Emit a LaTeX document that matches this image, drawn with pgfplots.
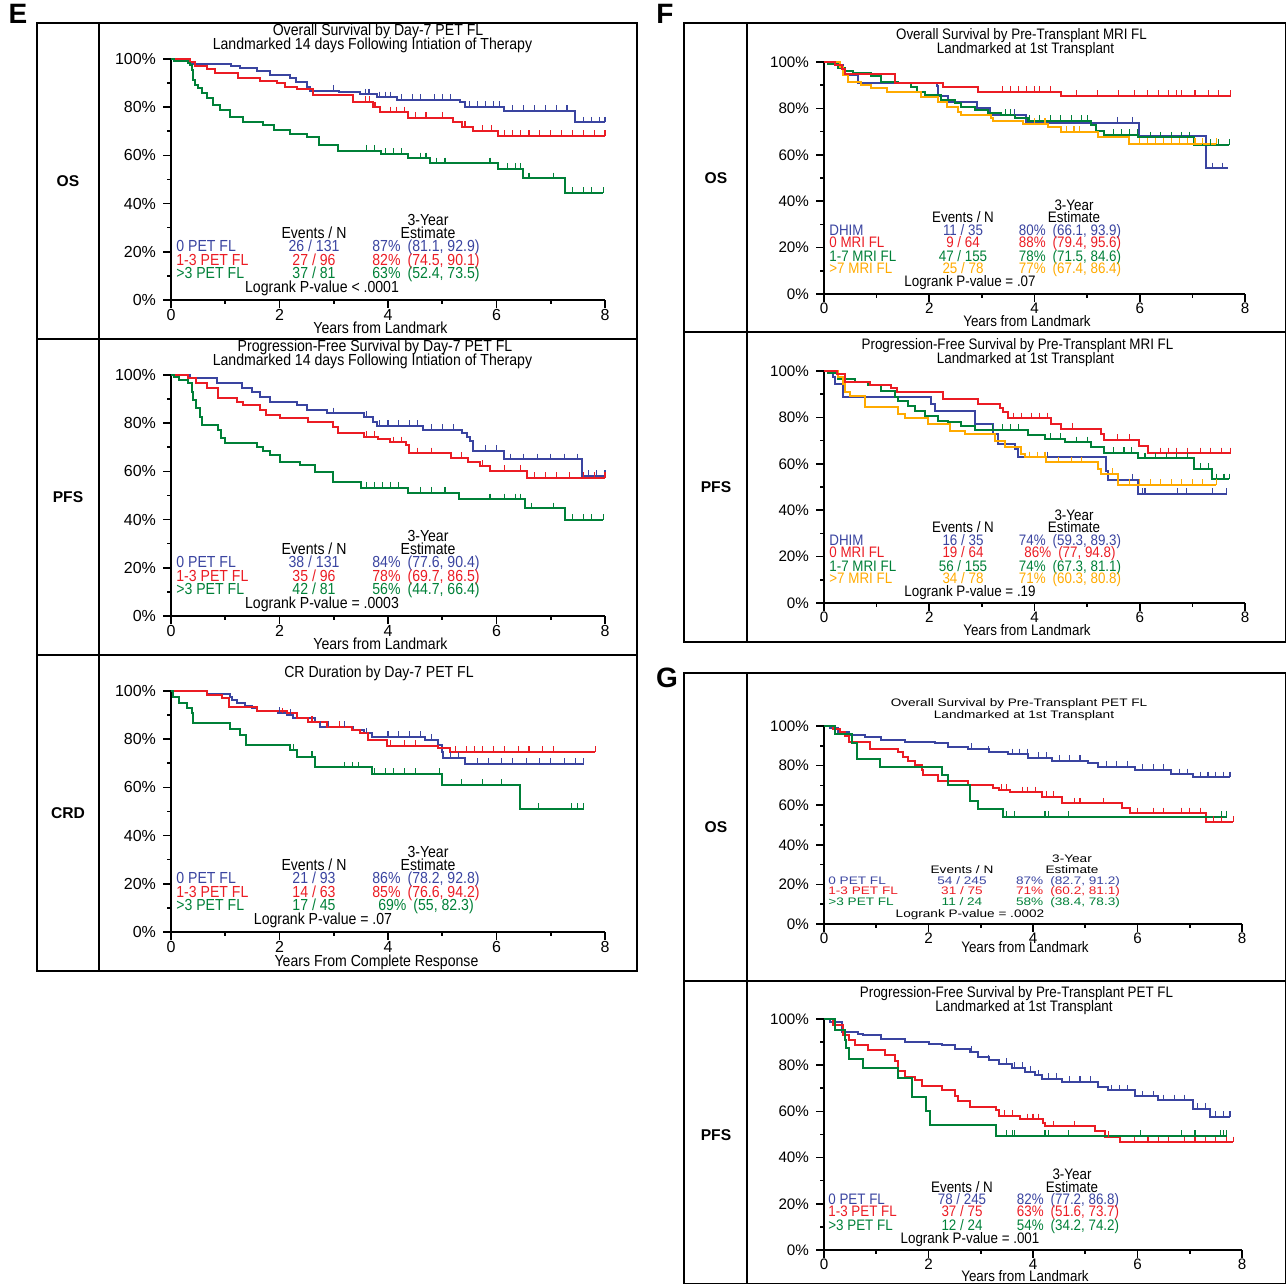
\documentclass[border=0pt]{standalone}
\usepackage{fontspec}
\setmainfont{Liberation Sans}
\newfontfamily\cond[FakeStretch=0.88]{Liberation Sans}
\usepackage{pgfplots}
\pgfplotsset{compat=1.18}
\definecolor{cb}{RGB}{58,68,160}
\definecolor{cr}{RGB}{235,28,36}
\definecolor{cg}{RGB}{0,128,56}
\definecolor{co}{RGB}{255,170,0}
\newcommand{\fE}{\cond\fontsize{8}{9}\selectfont}
\newcommand{\fF}{\cond\fontsize{7.6}{8.6}\selectfont}
\newcommand{\fG}{\normalfont\fontsize{6.8}{8}\selectfont}

\pgfplotsset{
  kmaxis/.style={
    scale only axis, anchor=south west,
    xmin=0, xmax=8, ymin=0, ymax=100,
    axis lines=left, axis line style={-, line width=1pt},
    xtick={0,2,4,6,8}, minor xtick={1,3,5,7},
    ytick={0,20,...,100}, minor ytick={10,30,...,90},
    tick align=outside, major tick length=4pt, minor tick length=2pt,
    tick style={black, line width=0.8pt},
    /pgf/number format/assume math mode=true,
    xticklabel={\pgfmathprintnumber{\tick}},
    yticklabel={\pgfmathprintnumber{\tick}\%},
    xticklabel style={yshift=3pt},
    clip=false,
  },
  km/.style={const plot, line width=1pt, mark=none, #1},
  cens/.style={only marks, mark=|, mark size=1.4pt, mark options={line width=0.55pt, yshift=1.4pt}, #1},
}
\tikzset{t/.style={inner sep=0pt, anchor=mid}, tl/.style={inner sep=0pt, anchor=mid west},
  sq/.style={yscale=0.8, transform shape}}

\begin{document}
\begin{tikzpicture}
\begin{scope}[x=0.5pt,y=0.5pt]
\useasboundingbox (0,0) rectangle (1286,1284);
\end{scope}

% ---------------- E: OS
\begin{axis}[kmaxis, at={(85.5pt,492pt)}, width=217pt, height=120.5pt,
  ticklabel style={font=\fontsize{8}{9}\selectfont}]
\addplot[km=cb] coordinates {(0,100)(0.1,99)(0.35,98)(1.1,97.2)(1.27,96.4)(1.58,95.2)(1.83,93.4)(2.2,92)(2.3,90.6)(2.5,88.5)(2.56,86.9)(3.1,86.2)(3.48,85.3)(3.8,84.1)(4.16,83)(5.33,82.3)(5.42,80.2)(6.13,78.4)(7.45,73.7)(8.0,73.7)};
\addplot[km=cr] coordinates {(0,100)(0.35,98.6)(0.44,97.2)(0.66,95.8)(0.81,94)(1.24,92)(1.64,91)(1.95,89.9)(2.1,88.2)(2.32,87.4)(2.62,85)(3.36,82.3)(3.73,79.9)(3.85,77.9)(4.37,75.7)(5.2,74)(5.36,71.9)(5.57,70.1)(6.03,68.2)(8.0,68.2)};
\addplot[km=cg] coordinates {(0,100)(0.05,99.2)(0.32,98.5)(0.35,97.5)(0.38,95.4)(0.40,93.4)(0.41,91.3)(0.44,89.2)(0.50,87.8)(0.57,85.8)(0.66,83.7)(0.78,80.9)(0.90,78.8)(1.09,76.1)(1.33,74)(1.70,72.6)(1.89,70.5)(2.19,68.9)(2.50,67.5)(2.72,64.3)(3.08,62)(3.88,60.6)(4.37,58.8)(4.77,56.7)(6.03,54.4)(6.49,50.5)(7.26,44.5)(7.97,44.5)};
\addplot[cens=cb] coordinates {(2.99,86.9)(3.58,85.3)(3.65,85.3)(3.85,84.1)(3.95,84.1)(4.05,84.1)(4.25,83)(4.45,83)(4.6,83)(4.85,83)(5.0,83)(5.15,83)(5.5,80.2)(5.65,80.2)(5.8,80.2)(5.95,80.2)(6.05,80.2)(6.3,78.4)(6.5,78.4)(6.7,78.4)(6.9,78.4)(7.1,78.4)(7.3,78.4)(7.6,73.7)(7.75,73.7)(7.9,73.7)(8,73.7)};
\addplot[cens=cr] coordinates {(3.58,82.3)(3.66,82.3)(3.76,79.9)(4.05,77.9)(4.15,77.9)(4.3,77.9)(4.5,75.7)(4.7,75.7)(5.0,75.7)(5.42,71.9)(5.75,70.1)(5.9,70.1)(6.15,68.2)(6.3,68.2)(6.45,68.2)(6.6,68.2)(6.8,68.2)(7.0,68.2)(7.2,68.2)(7.4,68.2)(7.6,68.2)(7.8,68.2)(8,68.2)};
\addplot[cens=cg] coordinates {(3.6,62)(3.75,62)(3.95,60.6)(4.1,60.6)(4.25,60.6)(4.6,58.8)(4.7,58.8)(4.9,56.7)(5.05,56.7)(5.88,56.7)(6.2,54.4)(6.35,54.4)(6.45,54.4)(6.6,50.5)(7.05,50.5)(7.4,44.5)(7.6,44.5)(7.75,44.5)(7.97,44.5)};
\end{axis}

% ---------------- E: PFS
\begin{axis}[kmaxis, at={(85.5pt,334pt)}, width=217pt, height=120.5pt,
  ticklabel style={font=\fontsize{8}{9}\selectfont}]
\addplot[km=cb] coordinates {(0,100)(0.35,98.6)(0.84,96.5)(1.30,94.5)(1.49,93.1)(1.64,91)(1.82,88.9)(2.32,87.6)(2.50,85.5)(2.87,84.1)(3.55,82.7)(3.73,80.6)(3.79,78.8)(4.65,77.2)(5.36,75.8)(5.45,74.4)(5.51,72.5)(5.57,68.5)(6.13,65)(7.57,58.1)(8.0,58.1)};
\addplot[km=cr] coordinates {(0,100)(0.32,98.6)(0.47,96.5)(0.66,94.5)(0.87,90.3)(1.21,88.9)(1.33,87.6)(1.64,85.5)(1.76,83.4)(2.01,82)(2.53,80.6)(2.99,78.6)(3.08,75.8)(3.55,74.4)(3.82,73.4)(4.04,72.1)(4.34,71)(4.39,67.5)(5.17,65.7)(5.48,63.8)(5.70,62.4)(5.88,60.2)(6.56,57.4)(8.0,57.4)};
\addplot[km=cg] coordinates {(0,100)(0.05,99.3)(0.14,97.9)(0.32,96.5)(0.38,93.1)(0.41,89.6)(0.47,86.2)(0.53,82.7)(0.58,79.3)(0.87,77.2)(0.93,73.7)(1.0,71.6)(1.58,70.3)(1.70,68.5)(1.82,66.8)(2.01,64)(2.38,62.7)(2.65,59.9)(2.99,55.7)(3.51,53.3)(4.37,51.2)(5.30,48.4)(6.53,44.7)(7.26,39.8)(7.97,39.8)};
\addplot[cens=cb] coordinates {(2.99,84.1)(3.6,82.7)(3.85,78.8)(4.0,78.8)(4.2,78.8)(4.4,78.8)(4.55,78.8)(4.8,77.2)(5.0,77.2)(5.2,77.2)(5.8,68.5)(6.0,68.5)(6.25,65)(6.5,65)(6.75,65)(7.0,65)(7.25,65)(7.5,65)(7.7,58.1)(7.85,58.1)(8,58.1)};
\addplot[cens=cr] coordinates {(3.6,74.4)(3.75,74.4)(4.1,72.1)(4.25,72.1)(4.55,67.5)(4.8,67.5)(5.35,65.7)(5.75,62.4)(6.15,60.2)(6.45,60.2)(6.7,57.4)(6.9,57.4)(7.1,57.4)(7.35,57.4)(7.6,57.4)(7.8,57.4)(8,57.4)};
\addplot[cens=cg] coordinates {(3.6,53.3)(3.75,53.3)(3.9,53.3)(4.05,53.3)(4.2,53.3)(4.6,51.2)(4.8,51.2)(5.05,51.2)(5.88,48.4)(6.15,48.4)(6.35,48.4)(6.45,48.4)(6.65,44.7)(7.05,44.7)(7.4,39.8)(7.6,39.8)(7.75,39.8)(7.97,39.8)};
\end{axis}

% ---------------- E: CRD
\begin{axis}[kmaxis, at={(85.5pt,176pt)}, width=217pt, height=120.5pt,
  ticklabel style={font=\fontsize{8}{9}\selectfont}]
\addplot[km=cb] coordinates {(0,100)(0.66,98.6)(1.09,97.6)(1.12,96.3)(1.21,94.9)(1.36,93.8)(1.49,92.8)(1.58,91.8)(1.98,91)(2.13,90)(2.25,88.7)(2.65,87.3)(2.75,85.2)(3.36,83.8)(3.55,82.4)(3.70,81)(4.68,79.7)(4.93,77.6)(4.99,74.8)(5.02,72.3)(5.42,69.7)(7.61,69.7)};
\addplot[km=cr] coordinates {(0,100)(0.66,98.3)(0.94,97)(1.06,93.5)(1.58,91.8)(2.13,90.7)(2.32,88.7)(2.53,87.3)(2.87,85.2)(3.33,83.8)(3.48,82.4)(3.64,79.7)(3.98,77.3)(4.93,76.5)(5.14,74.8)(7.82,74.8)};
\addplot[km=cg] coordinates {(0,100)(0.04,97.5)(0.14,95.2)(0.29,93)(0.38,90.7)(0.41,86.6)(1.09,84.1)(1.27,81.7)(1.39,77.6)(2.19,75.5)(2.32,72.8)(2.65,68.3)(3.70,65.6)(4.99,61)(6.43,51)(7.61,51)};
\addplot[cens=cb] coordinates {(2.0,91)(2.2,90)(2.75,85.2)(2.9,85.2)(3.2,85.2)(3.6,82.4)(4.0,81)(4.2,81)(4.4,81)(4.6,81)(4.8,79.7)(5.15,72.3)(5.3,72.3)(5.65,69.7)(5.85,69.7)(6.1,69.7)(6.3,69.7)(6.55,69.7)(6.8,69.7)(7.0,69.7)(7.25,69.7)(7.45,69.7)(7.61,69.7)};
\addplot[cens=cr] coordinates {(2.05,90.7)(2.6,87.3)(3.1,85.2)(4.05,77.3)(4.3,77.3)(4.5,77.3)(5.25,74.8)(5.45,74.8)(5.6,74.8)(5.75,74.8)(5.95,74.8)(6.15,74.8)(6.4,74.8)(6.6,74.8)(6.85,74.8)(7.05,74.8)(7.82,74.8)};
\addplot[cens=cg] coordinates {(2.25,75.5)(2.6,72.8)(3.2,68.3)(3.35,68.3)(3.45,68.3)(3.75,65.6)(3.95,65.6)(4.1,65.6)(4.3,65.6)(4.5,65.6)(4.95,65.6)(5.35,61)(5.75,61)(6.1,61)(6.77,51)(7.38,51)(7.5,51)(7.61,51)};
\end{axis}

% ---------------- F: OS
\begin{axis}[kmaxis, at={(412pt,495pt)}, width=210.5pt, height=116pt,
  ticklabel style={font=\fontsize{7.6}{8.6}\selectfont}]
\addplot[km=cb] coordinates {(0,100)(0.24,98.5)(0.37,94.4)(0.65,91.1)(2.14,89.7)(2.17,85.5)(2.36,82.9)(2.90,80)(3.15,77.2)(3.84,73.9)(5.99,68.2)(7.26,54.2)(7.67,54.2)};
\addplot[km=cg] coordinates {(0,100)(0.08,99.1)(0.27,97.3)(0.40,96.3)(0.56,95.1)(0.90,94)(1.09,91.5)(1.41,90.8)(1.66,89.4)(1.76,87.2)(1.92,85.8)(2.23,83.6)(2.48,82.2)(2.61,80.5)(2.86,79.3)(3.12,78.2)(3.37,77.2)(3.62,75.7)(3.87,74.7)(5.08,72.8)(5.17,70.4)(5.33,68.5)(5.96,67.5)(7.04,64.2)(7.70,64.2)};
\addplot[km=co] coordinates {(0,100)(0.30,98)(0.37,94.4)(0.46,91.5)(0.71,90.1)(0.90,88.6)(1.19,87.2)(1.85,85)(2.17,82.9)(2.33,80.7)(2.55,78.6)(2.61,77.2)(3.18,75.7)(3.21,74.7)(3.78,73.3)(4.25,72.1)(4.51,70)(5.20,67.5)(5.80,64.7)(7.45,64.7)};
\addplot[km=cr] coordinates {(0,100)(0.21,98.5)(0.34,97)(0.40,94.8)(1.35,91.1)(2.26,89.1)(2.93,87.2)(4.51,85.3)(7.73,85.3)};
\addplot[cens=cb] coordinates {(3.62,77.2)(5.58,73.9)(5.87,73.9)(7.38,54.2)(7.57,54.2)};
\addplot[cens=cg] coordinates {(3.45,77.2)(3.55,77.2)(3.9,74.7)(4.1,74.7)(4.3,74.7)(4.5,74.7)(4.7,74.7)(4.9,74.7)(5.0,74.7)(5.5,68.5)(5.65,68.5)(5.8,68.5)(5.95,68.5)(6.2,67.5)(6.4,67.5)(6.6,67.5)(6.8,67.5)(6.95,67.5)(7.2,64.2)(7.35,64.2)(7.5,64.2)(7.7,64.2)};
\addplot[cens=co] coordinates {(4.0,73.3)(4.2,73.3)(4.6,70)(4.75,70)(4.85,70)(6.0,64.7)(6.15,64.7)(6.3,64.7)(6.45,64.7)(6.6,64.7)(6.75,64.7)(6.9,64.7)(7.05,64.7)(7.2,64.7)(7.45,64.7)};
\addplot[cens=cr] coordinates {(3.4,87.2)(3.55,87.2)(3.7,87.2)(3.85,87.2)(4.0,87.2)(4.1,87.2)(4.3,87.2)(4.8,85.3)(5.2,85.3)(5.6,85.3)(5.9,85.3)(6.15,85.3)(6.35,85.3)(6.55,85.3)(6.7,85.3)(6.8,85.3)(7.05,85.3)(7.3,85.3)(7.5,85.3)(7.73,85.3)};
\end{axis}

% ---------------- F: PFS
\begin{axis}[kmaxis, at={(412pt,340.5pt)}, width=210.5pt, height=116pt,
  ticklabel style={font=\fontsize{7.6}{8.6}\selectfont}]
\addplot[km=cb] coordinates {(0,100)(0.18,97.3)(0.21,94.4)(0.37,88.6)(2.04,85.8)(2.10,82.9)(2.86,77.2)(3.21,72.8)(3.31,68.5)(3.62,66.4)(3.69,62.8)(5.36,57)(5.39,53.2)(5.96,47)(7.65,47)};
\addplot[km=cg] coordinates {(0,100)(0.08,99)(0.27,96.6)(0.59,95.1)(0.84,94)(1.09,91.5)(1.35,88.6)(1.41,87.2)(1.60,85)(1.73,82.9)(1.92,80.5)(2.17,78.6)(2.36,77.9)(2.61,76.4)(2.86,74.7)(3.87,72.4)(4.19,70.7)(4.57,69.3)(5.08,67.1)(5.33,64.7)(5.96,62.4)(7.04,57.8)(7.38,53.4)(7.70,53.4)};
\addplot[km=co] coordinates {(0,100)(0.27,97.3)(0.37,94.4)(0.40,91)(0.5,89.4)(0.78,84.3)(1.41,81.5)(1.54,79.6)(1.98,77.2)(2.39,74.3)(2.67,72.8)(3.24,70)(3.43,67.1)(3.75,64.2)(3.81,62.8)(4.22,60.6)(5.20,57.8)(5.27,55.6)(5.58,50.9)(7.45,50.9)};
\addplot[km=cr] coordinates {(0,100)(0.24,98.7)(0.40,95.1)(0.87,94)(1.28,92.5)(1.38,90.8)(2.26,87.9)(2.93,85.8)(3.34,83.9)(3.40,82.2)(3.50,79.6)(4.32,77.2)(4.51,75)(5.27,72.8)(5.33,70.4)(5.99,67.5)(6.15,64.5)(7.73,64.5)};
\addplot[cens=cb] coordinates {(3.9,62.8)(4.25,62.8)(5.87,53.2)(6.05,47)(6.1,47)(6.72,47)(6.88,47)(7.38,47)(7.65,47)};
\addplot[cens=cg] coordinates {(3.2,74.7)(3.4,74.7)(3.55,74.7)(3.7,74.7)(4.3,70.7)(4.5,70.7)(4.8,69.3)(5.0,69.3)(5.5,64.7)(5.7,64.7)(5.85,64.7)(6.1,62.4)(6.3,62.4)(6.5,62.4)(6.7,62.4)(6.9,62.4)(7.15,57.8)(7.3,57.8)(7.45,53.4)(7.6,53.4)(7.7,53.4)};
\addplot[cens=co] coordinates {(3.9,62.8)(4.05,62.8)(4.2,62.8)(4.45,60.6)(4.7,60.6)(4.9,60.6)(5.49,55.6)(5.8,50.9)(6.0,50.9)(6.2,50.9)(6.4,50.9)(6.6,50.9)(6.8,50.9)(7.0,50.9)(7.2,50.9)(7.45,50.9)};
\addplot[cens=cr] coordinates {(3.6,79.6)(3.75,79.6)(3.95,79.6)(4.1,79.6)(4.25,79.6)(4.73,75)(5.58,70.4)(5.8,70.4)(6.4,64.5)(6.55,64.5)(6.7,64.5)(6.9,64.5)(7.15,64.5)(7.35,64.5)(7.55,64.5)(7.73,64.5)};
\end{axis}

% ---------------- G: OS
\begin{axis}[kmaxis, at={(412pt,180pt)}, width=209pt, height=99pt,
  ticklabel style={font=\fontsize{7.6}{8.6}\selectfont}]
\addplot[km=cb] coordinates {(0,100)(0.11,99.2)(0.27,97.1)(0.47,95.5)(0.78,94.6)(1.10,92.9)(1.55,92.1)(2.12,91.2)(2.38,89.6)(2.76,88.4)(3.15,87)(3.53,85.7)(3.91,84)(4.36,82.5)(5.06,81.1)(5.25,79.5)(5.95,77.8)(6.65,75.6)(7.07,74.1)(7.77,74.1)};
\addplot[km=cr] coordinates {(0,100)(0.18,98.5)(0.31,97.1)(0.40,94.9)(0.47,92.1)(0.88,88.2)(1.42,86.7)(1.52,84.5)(1.61,82.3)(1.74,80.3)(1.87,77.8)(1.90,75.3)(2.19,72.3)(2.76,70.2)(3.24,68.5)(3.34,67.7)(3.56,66.5)(4.17,64.3)(4.55,60.9)(5.70,58.4)(5.86,55.9)(7.32,51.7)(7.83,51.7)};
\addplot[km=cg] coordinates {(0,100)(0.21,95.8)(0.53,91.2)(0.63,83.3)(1.07,79.1)(2.25,75.3)(2.38,70.2)(2.79,62.1)(2.95,58.1)(3.43,54.2)(7.71,54.2)};
\addplot[cens=cb] coordinates {(2.83,88.4)(3.15,87)(3.6,85.7)(3.75,85.7)(3.9,85.7)(4.1,84)(4.25,84)(4.5,82.5)(4.7,82.5)(4.9,82.5)(5.4,79.5)(5.6,79.5)(5.8,79.5)(6.1,77.8)(6.3,77.8)(6.5,77.8)(6.8,75.6)(6.95,75.6)(7.2,74.1)(7.35,74.1)(7.5,74.1)(7.65,74.1)(7.77,74.1)};
\addplot[cens=cr] coordinates {(3.4,67.7)(3.5,67.7)(3.8,66.5)(3.9,66.5)(4.05,66.5)(4.25,64.3)(4.4,64.3)(4.8,60.9)(4.9,60.9)(5.35,60.9)(6.0,55.9)(6.3,55.9)(6.5,55.9)(6.85,55.9)(7.0,55.9)(7.2,55.9)(7.45,51.7)(7.6,51.7)(7.83,51.7)};
\addplot[cens=cg] coordinates {(3.5,54.2)(3.65,54.2)(4.23,54.2)(4.3,54.2)(4.68,54.2)(7.6,54.2)(7.71,54.2)};
\end{axis}

% ---------------- G: PFS
\begin{axis}[kmaxis, at={(412pt,17pt)}, width=209pt, height=115.5pt,
  ticklabel style={font=\fontsize{7.6}{8.6}\selectfont}]
\addplot[km=cb] coordinates {(0,100)(0.11,98.6)(0.34,94.4)(0.66,93.6)(0.75,92.9)(1.10,91.5)(1.55,90)(2.0,89.3)(2.25,88.6)(2.51,87.1)(2.79,85.7)(2.95,83.5)(3.15,82.1)(3.34,80.6)(3.59,78.9)(3.85,77.1)(4.04,75.6)(4.17,74.1)(4.55,72.7)(5.25,70.5)(5.44,69.1)(5.95,66.5)(6.40,64.8)(7.07,61.2)(7.39,57.6)(7.77,57.6)};
\addplot[km=cr] coordinates {(0,100)(0.18,97.5)(0.37,93.2)(0.47,91)(0.59,88.9)(0.85,86.4)(1.17,84.5)(1.36,81.6)(1.42,77.3)(1.55,75.1)(1.74,73.7)(1.87,70.8)(2.25,69.4)(2.51,66.5)(2.57,64.7)(2.79,62.1)(3.30,60.7)(3.34,58.1)(3.75,56.6)(4.20,54.9)(4.23,53.5)(5.19,51.3)(5.38,49.1)(5.66,46.7)(7.83,46.7)};
\addplot[km=cg] coordinates {(0,100)(0.21,95.4)(0.40,91)(0.43,87.4)(0.47,82.7)(0.75,78.8)(1.42,74.4)(1.68,66.2)(1.96,60)(2.03,54.2)(3.30,49.4)(7.71,49.4)};
\addplot[cens=cb] coordinates {(2.83,85.7)(3.15,82.1)(3.5,80.6)(3.65,78.9)(3.8,78.9)(3.95,77.1)(4.1,75.6)(4.3,74.1)(4.45,74.1)(4.7,72.7)(4.9,72.7)(5.1,72.7)(5.5,69.1)(5.65,69.1)(5.8,69.1)(6.1,66.5)(6.3,66.5)(6.5,64.8)(6.7,64.8)(6.9,64.8)(7.15,61.2)(7.3,61.2)(7.5,57.6)(7.65,57.6)(7.77,57.6)};
\addplot[cens=cr] coordinates {(3.45,58.1)(3.6,58.1)(3.9,56.6)(4.0,56.6)(4.1,56.6)(4.4,53.5)(4.8,53.5)(5.44,49.1)(5.95,46.7)(6.2,46.7)(6.4,46.7)(6.6,46.7)(6.9,46.7)(7.1,46.7)(7.3,46.7)(7.5,46.7)(7.7,46.7)(7.83,46.7)};
\addplot[cens=cg] coordinates {(3.5,49.4)(3.6,49.4)(3.65,49.4)(4.23,49.4)(4.3,49.4)(4.68,49.4)(6.05,49.4)(6.85,49.4)(7.1,49.4)(7.58,49.4)(7.65,49.4)(7.71,49.4)};
\end{axis}

% ---------------- frames, titles, annotations (pixel grid, y measured from top)
\begin{scope}[x=0.5pt,y=0.5pt]
\draw[line width=0.7pt] (37,{1284-23}) rectangle (637,{1284-971});
\draw[line width=0.7pt] (99,{1284-23}) -- (99,{1284-971});
\draw[line width=0.7pt] (37,{1284-339}) -- (637,{1284-339});
\draw[line width=0.7pt] (37,{1284-655}) -- (637,{1284-655});
\draw[line width=0.7pt] (684,{1284-23}) rectangle (1285.3,{1284-642});
\draw[line width=0.7pt] (747,{1284-23}) -- (747,{1284-642});
\draw[line width=0.7pt] (684,{1284-332}) -- (1285.3,{1284-332});
\draw[line width=0.7pt] (684,{1284-673}) rectangle (1285.3,0.7);
\draw[line width=0.7pt] (747,{1284-673}) -- (747,0.7);
\draw[line width=0.7pt] (684,{1284-981}) -- (1285.3,{1284-981});

\begin{scope}[font=\bfseries\fontsize{14}{16}\selectfont]
\node[t] at (18,{1284-18}) {E};
\node[t] at (665,{1284-18}) {F};
\node[t] at (667,{1284-682}) {G};
\end{scope}
\begin{scope}[font=\bfseries\fontsize{7.8}{9}\selectfont]
\node[t] at (68,{1284-181}) {OS};
\node[t] at (68,{1284-497}) {PFS};
\node[t] at (68,{1284-813}) {CRD};
\node[t] at (716,{1284-178}) {OS};
\node[t] at (716,{1284-487}) {PFS};
\node[t] at (716,{1284-827}) {OS};
\node[t] at (716,{1284-1135}) {PFS};
\end{scope}

% E titles and stats
\begin{scope}[font=\fE]
\node[t] at (378,{1284-30}) {Overall Survival by Day-7 PET FL};
\node[t] at (372.5,{1284-44}) {Landmarked 14 days Following Intiation of Therapy};
\node[t] at (380.5,{1284-328}) {Years from Landmark};
\node[t] at (375,{1284-346}) {Progression-Free Survival by Day-7 PET FL};
\node[t] at (372.5,{1284-360}) {Landmarked 14 days Following Intiation of Therapy};
\node[t] at (380.5,{1284-644}) {Years from Landmark};
\node[t] at (379,{1284-672}) {CR Duration by Day-7 PET FL};
\node[t] at (376.5,{1284-961}) {Years From Complete Response};
% OS stats (base 300)
\node[t] at (428,{1284-220.5}) {3-Year};
\node[t] at (428,{1284-233}) {Estimate};
\node[t] at (314,{1284-233}) {Events / N};
\node[tl,text=cb] at (176,{1284-246.7}) {0 PET FL};
\node[tl,text=cr] at (176,{1284-260}) {1-3 PET FL};
\node[tl,text=cg] at (176,{1284-273.3}) {>3 PET FL};
\node[t,text=cb] at (314,{1284-246.7}) {26 / 131};
\node[t,text=cr] at (314,{1284-260}) {27 / 96};
\node[t,text=cg] at (314,{1284-273.3}) {37 / 81};
\node[t,text=cb] at (426,{1284-246.7}) {87\%\hspace{3.5pt}(81.1, 92.9)};
\node[t,text=cr] at (426,{1284-260}) {82\%\hspace{3.5pt}(74.5, 90.1)};
\node[t,text=cg] at (426,{1284-273.3}) {63\%\hspace{3.5pt}(52.4, 73.5)};
\node[t] at (322,{1284-287}) {Logrank P-value < .0001};
% PFS stats (base 616)
\node[t] at (428,{1284-536.5}) {3-Year};
\node[t] at (428,{1284-549}) {Estimate};
\node[t] at (314,{1284-549}) {Events / N};
\node[tl,text=cb] at (176,{1284-562.7}) {0 PET FL};
\node[tl,text=cr] at (176,{1284-576}) {1-3 PET FL};
\node[tl,text=cg] at (176,{1284-589.3}) {>3 PET FL};
\node[t,text=cb] at (314,{1284-562.7}) {38 / 131};
\node[t,text=cr] at (314,{1284-576}) {35 / 96};
\node[t,text=cg] at (314,{1284-589.3}) {42 / 81};
\node[t,text=cb] at (426,{1284-562.7}) {84\%\hspace{3.5pt}(77.6, 90.4)};
\node[t,text=cr] at (426,{1284-576}) {78\%\hspace{3.5pt}(69.7, 86.5)};
\node[t,text=cg] at (426,{1284-589.3}) {56\%\hspace{3.5pt}(44.7, 66.4)};
\node[t] at (322,{1284-603}) {Logrank P-value = .0003};
% CRD stats (base 932)
\node[t] at (428,{1284-852.5}) {3-Year};
\node[t] at (428,{1284-865}) {Estimate};
\node[t] at (314,{1284-865}) {Events / N};
\node[tl,text=cb] at (176,{1284-878.7}) {0 PET FL};
\node[tl,text=cr] at (176,{1284-892}) {1-3 PET FL};
\node[tl,text=cg] at (176,{1284-905.3}) {>3 PET FL};
\node[t,text=cb] at (314,{1284-878.7}) {21 / 93};
\node[t,text=cr] at (314,{1284-892}) {14 / 63};
\node[t,text=cg] at (314,{1284-905.3}) {17 / 45};
\node[t,text=cb] at (426,{1284-878.7}) {86\%\hspace{3.5pt}(78.2, 92.8)};
\node[t,text=cr] at (426,{1284-892}) {85\%\hspace{3.5pt}(76.6, 94.2)};
\node[t,text=cg] at (426,{1284-905.3}) {69\%\hspace{3.5pt}(55, 82.3)};
\node[t] at (323,{1284-919.3}) {Logrank P-value = .07};
\end{scope}

% F and G titles and stats
\begin{scope}[font=\fF]
\node[t] at (1021.5,{1284-34}) {Overall Survival by Pre-Transplant MRI FL};
\node[t] at (1025.5,{1284-48}) {Landmarked at 1st Transplant};
\node[t] at (1027,{1284-321}) {Years from Landmark};
\node[t] at (1017.5,{1284-344}) {Progression-Free Survival by Pre-Transplant MRI FL};
\node[t] at (1025.5,{1284-358}) {Landmarked at 1st Transplant};
\node[t] at (1027,{1284-630}) {Years from Landmark};
\node[t] at (1025,{1284-947}) {Years from Landmark};
\node[t] at (1016.5,{1284-992}) {Progression-Free Survival by Pre-Transplant PET FL};
\node[t] at (1024,{1284-1006}) {Landmarked at 1st Transplant};
\node[t] at (1025,{1284-1276}) {Years from Landmark};
% F OS stats
\node[t] at (1074,{1284-205}) {3-Year};
\node[t] at (1074,{1284-217.7}) {Estimate};
\node[t] at (963,{1284-217.7}) {Events / N};
\node[tl,text=cb] at (829,{1284-230}) {DHIM};
\node[tl,text=cr] at (829,{1284-242.7}) {0 MRI FL};
\node[tl,text=cg] at (829,{1284-256}) {1-7 MRI FL};
\node[tl,text=co] at (829,{1284-268.3}) {>7 MRI FL};
\node[t,text=cb] at (963,{1284-230}) {11 / 35};
\node[t,text=cr] at (963,{1284-242.7}) {9 / 64};
\node[t,text=cg] at (963,{1284-256}) {47 / 155};
\node[t,text=co] at (963,{1284-268.3}) {25 / 78};
\node[t,text=cb] at (1070,{1284-230}) {80\%\hspace{3.5pt}(66.1, 93.9)};
\node[t,text=cr] at (1070,{1284-242.7}) {88\%\hspace{3.5pt}(79.4, 95.6)};
\node[t,text=cg] at (1070,{1284-256}) {78\%\hspace{3.5pt}(71.5, 84.6)};
\node[t,text=co] at (1070,{1284-268.3}) {77\%\hspace{3.5pt}(67.4, 86.4)};
\node[t] at (970,{1284-281}) {Logrank P-value = .07};
% F PFS stats
\node[t] at (1074,{1284-515}) {3-Year};
\node[t] at (1074,{1284-527.7}) {Estimate};
\node[t] at (963,{1284-527.7}) {Events / N};
\node[tl,text=cb] at (829,{1284-540}) {DHIM};
\node[tl,text=cr] at (829,{1284-552.7}) {0 MRI FL};
\node[tl,text=cg] at (829,{1284-566}) {1-7 MRI FL};
\node[tl,text=co] at (829,{1284-578.3}) {>7 MRI FL};
\node[t,text=cb] at (963,{1284-540}) {16 / 35};
\node[t,text=cr] at (963,{1284-552.7}) {19 / 64};
\node[t,text=cg] at (963,{1284-566}) {56 / 155};
\node[t,text=co] at (963,{1284-578.3}) {34 / 78};
\node[t,text=cb] at (1070,{1284-540}) {74\%\hspace{3.5pt}(59.3, 89.3)};
\node[t,text=cr] at (1070,{1284-552.7}) {86\%\hspace{3.5pt}(77, 94.8)};
\node[t,text=cg] at (1070,{1284-566}) {74\%\hspace{3.5pt}(67.3, 81.1)};
\node[t,text=co] at (1070,{1284-578.3}) {71\%\hspace{3.5pt}(60.3, 80.8)};
\node[t] at (970,{1284-591}) {Logrank P-value = .19};
% G PFS stats
\node[t] at (1072,{1284-1174.3}) {3-Year};
\node[t] at (1072,{1284-1187.7}) {Estimate};
\node[t] at (962,{1284-1187.7}) {Events / N};
\node[tl,text=cb] at (828,{1284-1199.3}) {0 PET FL};
\node[tl,text=cr] at (828,{1284-1211.7}) {1-3 PET FL};
\node[tl,text=cg] at (828,{1284-1225}) {>3 PET FL};
\node[t,text=cb] at (962,{1284-1199.3}) {78 / 245};
\node[t,text=cr] at (962,{1284-1211.7}) {37 / 75};
\node[t,text=cg] at (962,{1284-1225}) {12 / 24};
\node[t,text=cb] at (1068,{1284-1199.3}) {82\%\hspace{3.5pt}(77.2, 86.8)};
\node[t,text=cr] at (1068,{1284-1211.7}) {63\%\hspace{3.5pt}(51.6, 73.7)};
\node[t,text=cg] at (1068,{1284-1225}) {54\%\hspace{3.5pt}(34.2, 74.2)};
\node[t] at (970,{1284-1238.3}) {Logrank P-value = .001};
\end{scope}

% G OS: title and vertically squeezed stats
\begin{scope}[font=\fG]
\node[t,sq] at (1019,{1284-702}) {Overall Survival by Pre-Transplant PET FL};
\node[t,sq] at (1024,{1284-714}) {Landmarked at 1st Transplant};
\node[t,sq] at (1072,{1284-858.3}) {3-Year};
\node[t,sq] at (1072,{1284-869}) {Estimate};
\node[t,sq] at (962,{1284-869}) {Events / N};
\node[tl,sq,text=cb] at (828,{1284-880}) {0 PET FL};
\node[tl,sq,text=cr] at (828,{1284-890.5}) {1-3 PET FL};
\node[tl,sq,text=cg] at (828,{1284-901.7}) {>3 PET FL};
\node[t,sq,text=cb] at (962,{1284-880}) {54 / 245};
\node[t,sq,text=cr] at (962,{1284-890.5}) {31 / 75};
\node[t,sq,text=cg] at (962,{1284-901.7}) {11 / 24};
\node[t,sq,text=cb] at (1068,{1284-880}) {87\%\hspace{3.5pt}(82.7, 91.2)};
\node[t,sq,text=cr] at (1068,{1284-890.5}) {71\%\hspace{3.5pt}(60.2, 81.1)};
\node[t,sq,text=cg] at (1068,{1284-901.7}) {58\%\hspace{3.5pt}(38.4, 78.3)};
\node[t,sq] at (970,{1284-913.3}) {Logrank P-value = .0002};
\end{scope}
\end{scope}
\end{tikzpicture}
\end{document}
